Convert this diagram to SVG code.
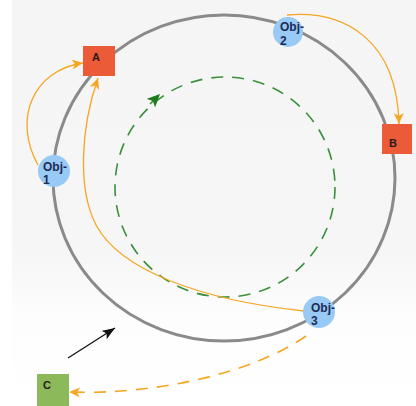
<svg xmlns="http://www.w3.org/2000/svg" width="416" height="406" viewBox="0 0 416 406">
  <defs>
    <style>
      .ring { fill: none; stroke: #8a8a8a; stroke-width: 3; }
      .orbit { fill: none; stroke: #3a8f3a; stroke-width: 1.6; stroke-dasharray: 12 9; }
      .link { fill: none; stroke: #f5a623; stroke-width: 1.3; }
      .link-dash { fill: none; stroke: #f5a623; stroke-width: 1.6; stroke-dasharray: 12 9; }
      .pointer { fill: none; stroke: #111; stroke-width: 1.3; }
      .obj circle { fill: #99c9f5; }
      .obj text { font-family: "Liberation Sans", Arial, sans-serif; font-size: 12px; font-weight: bold; fill: #1d2b55; }
      .box rect.red { fill: #eb5b38; }
      .box rect.green { fill: #8cb95a; }
      .box text { font-family: "Liberation Sans", Arial, sans-serif; font-size: 11px; font-weight: bold; fill: #2a1a14; }
    </style>
    <linearGradient id="panel-fade" x1="0" y1="0" x2="0" y2="1">
      <stop offset="0" stop-color="#f5f5f5"/>
      <stop offset="0.62" stop-color="#f6f6f6"/>
      <stop offset="0.78" stop-color="#fdfdfd"/>
      <stop offset="1" stop-color="#ffffff"/>
    </linearGradient>
    <marker id="arrow-orange" markerUnits="userSpaceOnUse" markerWidth="12" markerHeight="10" refX="11" refY="5" orient="auto">
      <path d="M0,0 L11,5 L0,10 L3,5 Z" fill="#f5a623"/>
    </marker>
    <marker id="arrow-green" markerUnits="userSpaceOnUse" markerWidth="14" markerHeight="12" refX="13" refY="6" orient="auto">
      <path d="M0,0 L13,6 L0,12 L3,6 Z" fill="#1f7a1f"/>
    </marker>
    <marker id="arrow-black" markerUnits="userSpaceOnUse" markerWidth="14" markerHeight="10" refX="13" refY="5" orient="auto">
      <path d="M0,0 L13,5 L0,10 L3,5 Z" fill="#111"/>
    </marker>
  </defs>

  <!-- backdrop panel -->
  <rect x="0" y="0" width="416" height="406" fill="#ffffff"/>
  <rect x="12" y="0" width="404" height="406" fill="url(#panel-fade)"/>

  <!-- main ring and inner orbit -->
  <ellipse class="ring" cx="224" cy="178" rx="171" ry="163"/>
  <circle class="orbit" cx="225" cy="187" r="110"/>
  <path class="orbit" d="M150,104 L160,94" stroke-dasharray="none" marker-end="url(#arrow-green)"/>

  <g id="connectors">
    <path class="link" d="M38,165 C12,118 34,70 83,63" marker-end="url(#arrow-orange)"/>
    <path class="link" d="M304,311 C200,300 120,270 96,225 C78,190 80,130 98,78" marker-end="url(#arrow-orange)"/>
    <path class="link" d="M287,15 C345,10 397,40 399,124" marker-end="url(#arrow-orange)"/>
    <path class="link-dash" d="M306,336 C250,375 150,395 69,392" marker-end="url(#arrow-orange)"/>
    <path class="pointer" d="M68,358 L115,328" marker-end="url(#arrow-black)"/>
  </g>

  <g id="node-A" class="box">
    <rect class="red" x="83" y="46" width="32" height="30"/>
    <text x="92" y="61">A</text>
  </g>
  <g id="node-B" class="box">
    <rect class="red" x="382" y="124" width="30" height="30"/>
    <text x="389" y="147">B</text>
  </g>
  <g id="node-C" class="box">
    <rect class="green" x="37" y="374" width="32" height="32"/>
    <text x="43" y="389">C</text>
  </g>

  <g id="obj-1" class="obj">
    <circle cx="54" cy="171" r="16"/>
    <text x="43" y="171">Obj-</text>
    <text x="43" y="184">1</text>
  </g>
  <g id="obj-2" class="obj">
    <circle cx="288" cy="32" r="15"/>
    <text x="280" y="31">Obj-</text>
    <text x="280" y="45">2</text>
  </g>
  <g id="obj-3" class="obj">
    <circle cx="319" cy="312" r="16"/>
    <text x="311" y="312">Obj-</text>
    <text x="311" y="325">3</text>
  </g>
</svg>
